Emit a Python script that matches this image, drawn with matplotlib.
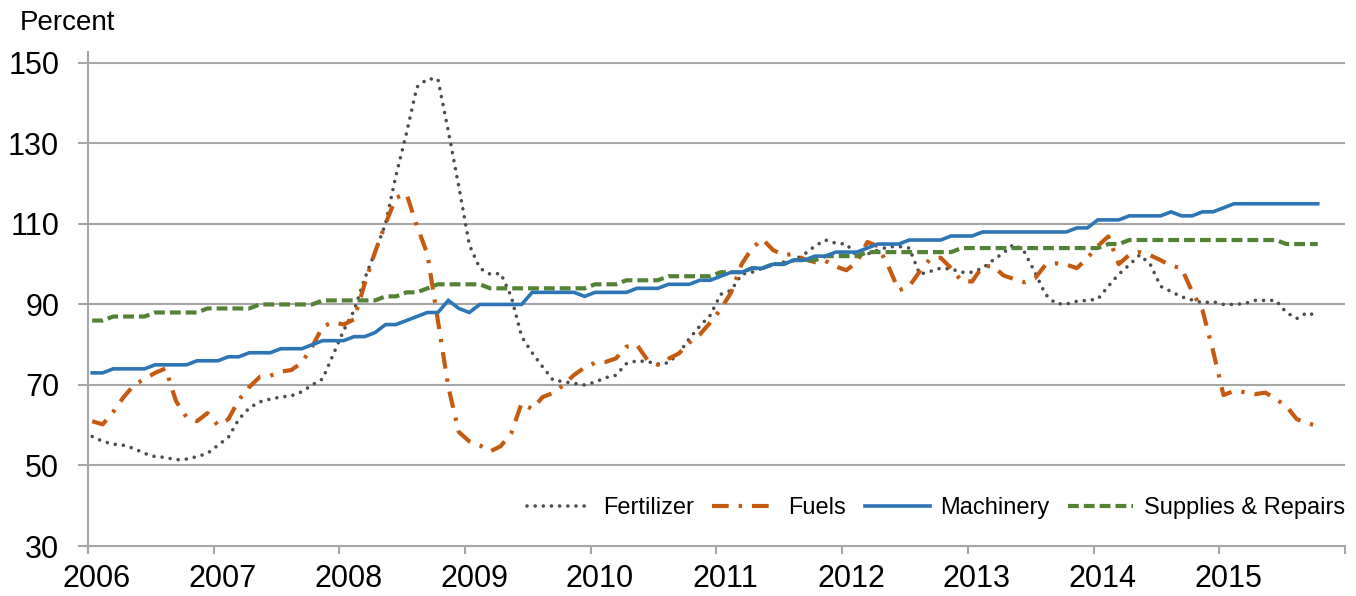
import matplotlib
matplotlib.use("Agg")
import matplotlib.pyplot as plt
import matplotlib.transforms as mtransforms
import numpy as np

plt.rcParams['font.family'] = ['Liberation Sans', 'DejaVu Sans']

start_year = 2006
n_months = 118  # Jan 2006 .. Oct 2015

fertilizer = [57.2, 56, 55.3, 55, 54.2, 53, 52.2, 52, 51.4, 51.6, 52.2, 53,
              55, 57, 61.5, 64.3, 65.8, 66.5, 67, 67.3, 68.3, 70, 71.5, 77.5,
              83.5, 88.5, 96.3, 103, 110, 122, 132.5, 144, 146, 146, 133, 119.3,
              104.8, 99, 97.5, 97.7, 92, 82, 78, 74.5, 71.2, 70.8, 70.4, 70,
              70.7, 71.8, 72.4, 75.3, 76, 75.8, 75.2, 75.5, 77.8, 81.5, 84.6, 87.3,
              92.5, 93.5, 97.5, 98, 99, 100, 100.5, 101, 102.5, 104.5, 106, 105.2,
              105, 102, 102.5, 103.5, 104.3, 104.4, 104, 97.5, 98.2, 99, 98.8, 98,
              98, 99, 101, 102.8, 105, 103, 98, 92.5, 90.2, 90.1, 90.8, 91,
              91.3, 94.5, 97.5, 99.8, 102.3, 100, 94.5, 93.2, 91.9, 91.1, 90.4, 90.7,
              90, 90, 90.2, 91, 91, 91, 88, 86.5, 88, 87]

fuels = [61, 60.2, 63.3, 67, 70, 71.5, 73, 74.1, 66, 62, 61, 63,
         60, 61.5, 66.3, 69.5, 72, 72.3, 73.3, 73.7, 75.5, 79.5, 84.5, 85.6,
         85, 86.3, 95, 103, 110, 116.5, 117.5, 109.5, 102.5, 86, 69.5, 58.3,
         56, 55, 53.5, 54.8, 58, 65.5, 64, 67, 68, 70, 72.5, 74.3,
         75.5, 75.7, 76.6, 79.5, 80, 76.2, 75, 76.5, 77.8, 80.5, 82.5, 85.5,
         88.8, 93, 100, 104, 106.2, 103.5, 102.3, 102.5, 101.2, 100.5, 100.8, 99.4,
         98.5, 100.5, 105.5, 104.5, 99.5, 93.5, 94.5, 98.2, 101.3, 101.6, 99, 95.8,
         95.7, 99.5, 99.5, 97.2, 96.3, 95.5, 96.5, 99.8, 100.2, 99.9, 99, 101.5,
         104.5, 106.9, 100, 102.3, 103, 102.2, 101, 99.6, 99, 93.2, 88.5, 78.5,
         67.5, 68.5, 68.2, 67.7, 68.1, 66.5, 64.7, 61.5, 60.5, 59.8]

machinery = ([73] * 2 + [74] * 4 + [75] * 4 + [76] * 3 + [77] * 2 + [78] * 3 +
             [79] * 3 + [80] + [81] * 3 + [82] * 2 + [83] + [85] * 2 + [86] + [87] +
             [88] * 2 + [91, 89, 88] + [90] * 5 + [93] * 5 + [92] + [93] * 4 +
             [94] * 3 + [95] * 3 + [96] * 2 + [97] + [98] * 2 + [99] * 2 + [100] * 2 +
             [101] * 2 + [102] * 2 + [103] * 3 + [104] + [105] * 3 + [106] * 4 +
             [107] * 3 + [108] * 9 + [109] * 2 + [111] * 3 + [112] * 4 + [113] +
             [112] * 2 + [113] * 2 + [114] + [115] * 9)

supplies = ([86] * 2 + [87] * 4 + [88] * 5 + [89] * 5 + [90] * 6 + [91] * 6 +
            [92] * 2 + [93] * 2 + [94] + [95] * 5 + [94] * 10 + [95] * 3 + [96] * 4 +
            [97] * 5 + [98] * 3 + [99] * 2 + [100] * 2 + [101] * 3 + [102] * 4 +
            [103] * 9 + [104] * 14 + [105] * 2 + [106] * 15 + [105] * 4)

year_ticks = list(range(2006, 2017))
year_labels = [str(y) for y in range(2006, 2016)] + [""]
y_ticks = [30, 50, 70, 90, 110, 130, 150]

x = start_year + (np.arange(n_months) + 0.4) / 12.0

W, H = 1356, 596
fig = plt.figure(figsize=(W / 100, H / 100), dpi=100)
ax = fig.add_axes([88 / W, 1 - 546 / H, 1257 / W, (546 - 52) / H])

grid_c = '#a6a6a6'
for yv in y_ticks[1:]:
    ax.axhline(yv, color=grid_c, lw=1.5, zorder=1)

ax.plot(x, fertilizer, color='#4d4d4d', lw=2.6, linestyle=(0, (0.01, 2.25)),
        dash_capstyle='round', label='Fertilizer', zorder=3)
ax.plot(x, fuels, color='#c55a11', lw=3.0, linestyle=(0, (4.0, 2.4, 0.8, 2.4)),
        label='Fuels', zorder=3)
ax.plot(x, machinery, color='#2e75b6', lw=2.6, solid_joinstyle='miter',
        label='Machinery', zorder=4)
ax.plot(x, supplies, color='#548235', lw=3.0, linestyle=(0, (2.6, 1.2)),
        label='Supplies & Repairs', zorder=3)

ax.set_xlim(2006, 2016)
ax.set_ylim(30, 152.7)
ax.set_xticks(year_ticks)
ax.set_xticklabels(year_labels)
ax.set_yticks(y_ticks)
ax.set_yticklabels([str(v) for v in y_ticks])

for s in ['top', 'right']:
    ax.spines[s].set_visible(False)
for s in ['left', 'bottom']:
    ax.spines[s].set_color(grid_c)
    ax.spines[s].set_linewidth(1.5)

ax.tick_params(axis='both', colors=grid_c, labelcolor='black', width=1.5,
               labelsize=22)
ax.tick_params(axis='y', length=7.2, pad=13.5)
ax.tick_params(axis='x', length=6.0, pad=7)

offset = mtransforms.ScaledTranslation(9 / 100, 0, fig.dpi_scale_trans)
for lbl in ax.get_xticklabels():
    lbl.set_transform(lbl.get_transform() + offset)

fig.text(20 / W, 1 - 29.5 / H, 'Percent', fontsize=20, va='baseline', ha='left')

leg = ax.legend(loc='center right', bbox_to_anchor=(1.0, (546 - 508) / (546 - 52)),
                ncol=4, frameon=False, fontsize=17, handlelength=2.75,
                handletextpad=0.45, columnspacing=0.8, borderpad=0,
                borderaxespad=0)

fig.savefig('out.png', dpi=100)
